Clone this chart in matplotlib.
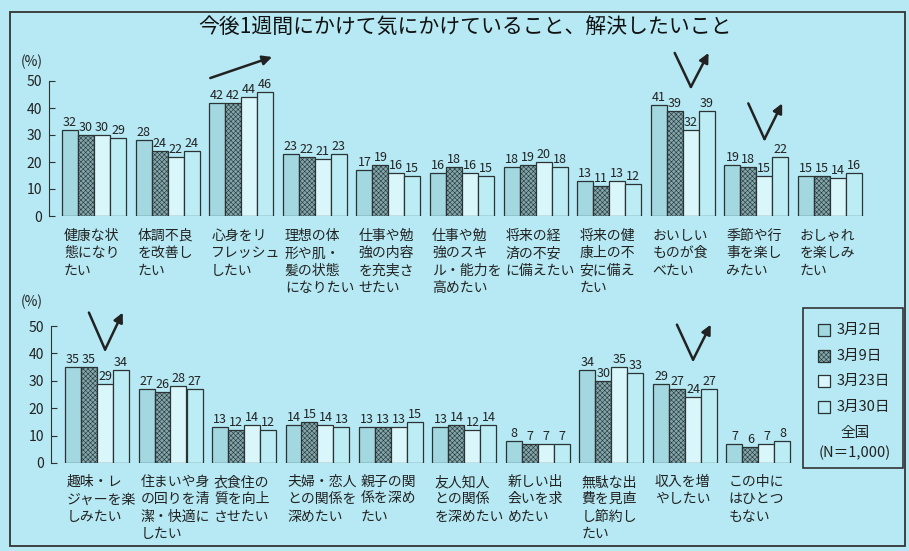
import matplotlib.pyplot as plt
from matplotlib.patches import Rectangle
import numpy as np

plt.rcParams['font.family'] = ['Noto Sans CJK JP', 'DejaVu Sans']
plt.rcParams['hatch.linewidth'] = 0.4

title = "今後1週間にかけて気にかけていること、解決したいこと"
series = ["3月2日", "3月9日", "3月23日", "3月30日"]

top_labels = [
    "健康な状\n態になり\nたい",
    "体調不良\nを改善し\nたい",
    "心身をリ\nフレッシュ\nしたい",
    "理想の体\n形や肌・\n髪の状態\nになりたい",
    "仕事や勉\n強の内容\nを充実さ\nせたい",
    "仕事や勉\n強のスキ\nル・能力を\n高めたい",
    "将来の経\n済の不安\nに備えたい",
    "将来の健\n康上の不\n安に備え\nたい",
    "おいしい\nものが食\nべたい",
    "季節や行\n事を楽し\nみたい",
    "おしゃれ\nを楽しみ\nたい",
]
top_values = [
    [32, 30, 30, 29],
    [28, 24, 22, 24],
    [42, 42, 44, 46],
    [23, 22, 21, 23],
    [17, 19, 16, 15],
    [16, 18, 16, 15],
    [18, 19, 20, 18],
    [13, 11, 13, 12],
    [41, 39, 32, 39],
    [19, 18, 15, 22],
    [15, 15, 14, 16],
]

bottom_labels = [
    "趣味・レ\nジャーを楽\nしみたい",
    "住まいや身\nの回りを清\n潔・快適に\nしたい",
    "衣食住の\n質を向上\nさせたい",
    "夫婦・恋人\nとの関係を\n深めたい",
    "親子の関\n係を深め\nたい",
    "友人知人\nとの関係\nを深めたい",
    "新しい出\n会いを求\nめたい",
    "無駄な出\n費を見直\nし節約し\nたい",
    "収入を増\nやしたい",
    "この中に\nはひとつ\nもない",
]
bottom_values = [
    [35, 35, 29, 34],
    [27, 26, 28, 27],
    [13, 12, 14, 12],
    [14, 15, 14, 13],
    [13, 13, 13, 15],
    [13, 14, 12, 14],
    [8, 7, 7, 7],
    [34, 30, 35, 33],
    [29, 27, 24, 27],
    [7, 6, 7, 8],
]

# groups marked with a "V" arrow (dip then rise): (group, bottom, top)
top_v = [(8, 47.8, 60.4), (9, 28.5, 41.7)]
bottom_v = [(0, 41.4, 54.9), (8, 37.7, 50.5)]

BG = "#b6e9f3"
EDGE = "#2b3335"
styles = [
    dict(facecolor="#a3d8e0"),
    dict(facecolor="#7fa7ac", hatch="xxxxxxx"),
    dict(facecolor="#d9f6fa"),
    dict(facecolor="#bcedf5"),
]

W, H = 909, 551
fig = plt.figure(figsize=(W / 100, H / 100), dpi=100, facecolor=BG)


def fx(x):
    return x / W


def fy(y):
    return 1 - y / H


def panel(left, right, base, top, center0, pitch):
    ax = fig.add_axes([fx(left), fy(base), fx(right - left), (base - top) / H])
    ax.set_facecolor("none")
    xmin = -(center0 - left) / pitch
    ax.set_xlim(xmin, xmin + (right - left) / pitch)
    ax.set_ylim(0, 50)
    return ax, 16 / pitch


def draw(ax, w, labels, values, vmarks, label_gap):
    vals = np.array(values)
    idx = np.arange(len(labels))
    for j in range(4):
        xs = idx + (j - 1.5) * w
        ax.bar(xs, vals[:, j], width=w, edgecolor=EDGE, linewidth=0.9, **styles[j])
        for x, v in zip(xs, vals[:, j]):
            ax.annotate(str(v), (x, v), xytext=(0, 1), textcoords="offset pixels",
                        ha="center", va="bottom", fontsize=9, color="#222")
    for i, lab in enumerate(labels):
        ax.annotate(lab, (i - 2 * w, 0), xytext=(2, -label_gap), textcoords="offset pixels",
                    ha="left", va="top", fontsize=10, color="#222", linespacing=1.3,
                    annotation_clip=False)
    for g, yb, yt in vmarks:
        ax.plot([g - 0.11, g + 0.11], [yt, yb], color="#222", lw=1.8,
                clip_on=False, solid_capstyle="round")
        ax.annotate("", xy=(g + 0.35, yt), xytext=(g + 0.11, yb),
                    arrowprops=dict(arrowstyle="-|>", color="#222", lw=1.8,
                                    mutation_scale=14, shrinkA=0, shrinkB=0),
                    annotation_clip=False)
    for s in ["top", "right", "bottom"]:
        ax.spines[s].set_visible(False)
    ax.spines["left"].set_color(EDGE)
    ax.set_xticks([])
    ax.set_yticks(range(0, 51, 10))
    ax.tick_params(axis="y", direction="in", length=4, pad=5, labelsize=10,
                   color=EDGE, labelcolor="#222")


ax1, w1 = panel(49, 880, 216, 81, 94, 73.6)
draw(ax1, w1, top_labels, top_values, top_v, 13)
ax1.annotate("", xy=(2.42, 58.9), xytext=(1.58, 51.1),
             arrowprops=dict(arrowstyle="-|>", color="#222", lw=1.8,
                             mutation_scale=14, shrinkA=0, shrinkB=0),
             annotation_clip=False)

ax2, w2 = panel(51, 880, 463, 326, 97, 73.5)
draw(ax2, w2, bottom_labels, bottom_values, bottom_v, 12)

fig.text(fx(465), fy(28), title, ha="center", va="center", fontsize=15, color="#111")
fig.text(fx(32), fy(62), "(%)", ha="center", va="center", fontsize=10, color="#222")
fig.text(fx(32), fy(302), "(%)", ha="center", va="center", fontsize=10, color="#222")

# outer frame
fig.add_artist(Rectangle((fx(10), fy(546)), fx(895), (546 - 12) / H, transform=fig.transFigure,
                         fill=False, edgecolor="#333", lw=1.3))

# legend box
fig.add_artist(Rectangle((fx(803), fy(468)), fx(100), (468 - 308) / H, transform=fig.transFigure,
                         fill=False, edgecolor="#333", lw=1.2))
for k, name in enumerate(series):
    yc = 330 + k * 25.7
    fig.add_artist(Rectangle((fx(818), fy(yc + 6)), fx(12), 12 / H, transform=fig.transFigure,
                             edgecolor=EDGE, lw=0.9, **styles[k]))
    fig.text(fx(837), fy(yc), name, ha="left", va="center", fontsize=10.5, color="#222")
fig.text(fx(855), fy(433), "全国", ha="center", va="center", fontsize=10.5, color="#222")
fig.text(fx(855), fy(453), "(N＝1,000)", ha="center", va="center", fontsize=10.5, color="#222")

fig.savefig("out.png", dpi=100, facecolor=BG)
